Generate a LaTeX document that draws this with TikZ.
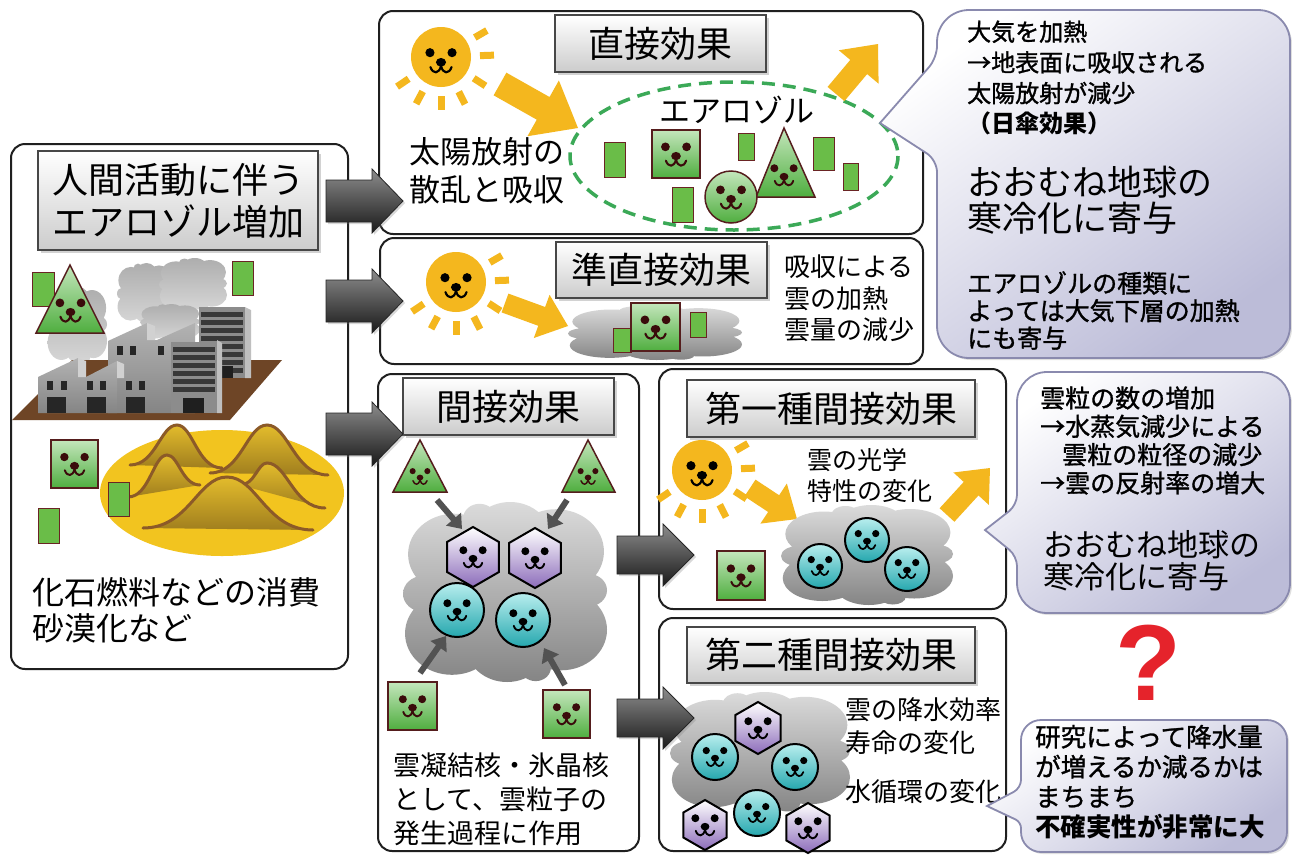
\documentclass[tikz,border=0pt]{standalone}
\usepackage{fontspec}
\setmainfont{Noto Sans CJK JP}
\newfontfamily\jpsemi[FakeBold=1.2]{Noto Sans CJK JP}
\newfontfamily\qmarkfont{Liberation Sans}
\usetikzlibrary{shadows,arrows.meta}

\definecolor{suncol}{HTML}{F4B71E}
\definecolor{leafhi}{HTML}{C4E6BC}
\definecolor{leaflo}{HTML}{4FAE3F}
\definecolor{chip}{HTML}{6ABD48}
\definecolor{chipedge}{HTML}{6A2424}
\definecolor{faceink}{HTML}{3A0B0B}
\definecolor{tealhi}{HTML}{B8EEEE}
\definecolor{teallo}{HTML}{25A7AE}
\definecolor{purplo}{HTML}{8C6CBA}
\definecolor{lav}{HTML}{BCBCD8}
\definecolor{lavedge}{HTML}{8A8AAE}
\definecolor{ringgreen}{HTML}{3BA957}
\definecolor{soil}{HTML}{6E4526}
\definecolor{sand}{HTML}{F2C41F}
\definecolor{dunehi}{HTML}{E3BC2C}
\definecolor{dunelo}{HTML}{A07E1E}
\definecolor{duneline}{HTML}{8C5A28}
\definecolor{qred}{HTML}{E5232B}

\tikzset{
  panel/.style={draw=black!88, line width=2pt, rounded corners=14pt, fill=white, inner sep=0pt},
  titlebox/.style={draw=black!72, line width=1.5pt, top color=white, bottom color=black!20,
    drop shadow={shadow xshift=2.5pt, shadow yshift=-2.5pt, opacity=0.35},
    inner sep=0pt, font=\fontsize{36}{42}\selectfont, align=center},
  body/.style={inner sep=0pt, anchor=west, align=left},
  bubble/.style={draw=lavedge, line width=1.8pt, top color=white, bottom color=lav, shading angle=35,
    drop shadow={shadow xshift=2pt, shadow yshift=-2pt, opacity=0.25}},
  darrow/.style={draw=black!85, line width=0.8pt, top color=black!45, bottom color=black!90,
    drop shadow={shadow xshift=2pt, shadow yshift=-2pt, opacity=0.3}},
  yarrow/.style={fill=suncol},
  leaf/.style={draw=chipedge!80!black, line width=1.5pt, top color=leafhi, bottom color=leaflo},
  chipbox/.style={draw=chipedge, line width=1pt, fill=chip},
  tealball/.style={draw=black, line width=2pt, top color=tealhi, bottom color=teallo},
  iceball/.style={draw=black, line width=2pt, top color=white, bottom color=purplo},
  ray/.style={draw=suncol, line width=7pt},
  nucarrow/.style={draw=black!68, line width=6pt, -{Triangle[length=13pt,width=19pt]}},
  cloudfill/.style={top color=black!14, bottom color=black!48},
  smokefill/.style={top color=black!32, bottom color=black!16},
  wall/.style={top color=black!30, bottom color=black!48},
}

% seal face: x, y, scale, ink colour
\newcommand{\sealface}[4]{%
  \begin{scope}[shift={(#1,#2)},scale=#3]
    \fill[#4] (-4.6,-1.8) circle[radius=1.9] (4.6,-1.8) circle[radius=1.9];
    \fill[#4] (0,2.2) ellipse[x radius=2.1, y radius=1.8];
    \draw[#4, line width=#3*0.9pt, line cap=round, line join=round]
      (-4.4,4.2) .. controls (-3.4,7.2) and (-0.7,7.2) .. (0,3.6)
      .. controls (0.7,7.2) and (3.4,7.2) .. (4.4,4.2);
  \end{scope}}

% sun with rays and face
\newcommand{\sunny}[2]{%
  \begin{scope}[shift={(#1,#2)}]
    \foreach \a in {-30,-2,33,63,90,118,146} \draw[ray] (\a:39) -- (\a:53);
    \fill[suncol] (0,0) circle[radius=30];
  \end{scope}
  \sealface{#1}{#2}{2.4}{black}}

% irregular blob (cloud / smoke): style, cx, cy, rx, ry
\newcommand{\blob}[5]{%
  \begin{scope}[shift={(#2,#3)},xscale=#4,yscale=#5]
    \shade[#1] (0,0) circle[radius=0.6] (-0.5,-0.42) circle[radius=0.45]
      (0.05,-0.6) circle[radius=0.4] (0.5,-0.45) circle[radius=0.47]
      (0.55,0.42) circle[radius=0.45] (0.02,0.6) circle[radius=0.4]
      (-0.52,0.46) circle[radius=0.46] (-0.8,0.02) circle[radius=0.2]
      (0.82,-0.02) circle[radius=0.18] (-0.25,-0.82) circle[radius=0.16]
      (0.3,0.84) circle[radius=0.15];
  \end{scope}}

% block arrow: style, from, to, half shaft, half head, head length
\newcommand{\blockarrow}[6]{%
  \path (#2); \pgfgetlastxy{\baxa}{\baya}
  \path (#3); \pgfgetlastxy{\baxb}{\bayb}
  \pgfmathsetmacro\baang{atan2(\bayb-\baya,\baxb-\baxa)}
  \pgfmathsetmacro\balen{veclen(\baxb-\baxa,\bayb-\baya)}
  \begin{scope}[shift={(#2)},rotate=\baang]
    \path[#1] (0,-#4) -- (\balen-#6,-#4) -- (\balen-#6,-#5) -- (\balen,0)
      -- (\balen-#6,#5) -- (\balen-#6,#4) -- (0,#4) -- cycle;
  \end{scope}}

% dune: x0, y0, peak x, peak y, x1, y1
\newcommand{\dune}[6]{%
  \shade[top color=dunehi, bottom color=dunelo] (#1,#2)
    .. controls ({#3-0.45*(#3-#1)},#2) and ({#3-0.35*(#3-#1)},#4) .. (#3,#4)
    .. controls ({#3+0.35*(#5-#3)},#4) and ({#3+0.45*(#5-#3)},#6) .. (#5,#6) -- cycle;
  \draw[duneline, line width=3pt, line cap=round] (#1,#2)
    .. controls ({#3-0.45*(#3-#1)},#2) and ({#3-0.35*(#3-#1)},#4) .. (#3,#4)
    .. controls ({#3+0.35*(#5-#3)},#4) and ({#3+0.45*(#5-#3)},#6) .. (#5,#6);}

% green square with face: x0, y0, x1, y1, face scale
\newcommand{\leafsquare}[5]{%
  \draw[leaf] (#1,#2) rectangle (#3,#4);
  \sealface{{(#1+#3)/2}}{{(#2+#4)/2-3}}{#5}{faceink}}

% hexagonal ice particle: x, y, radius
\newcommand{\icehex}[3]{%
  \draw[iceball] (#1,#2) ++(90:#3) -- ++(-30:#3) -- ++(-90:#3) -- ++(-150:#3) -- ++(150:#3) -- ++(90:#3) -- cycle;
  \sealface{#1}{#2-3}{2.1}{black}}

% cloud droplet: x, y, radius, face scale
\newcommand{\drop}[4]{%
  \draw[tealball] (#1,#2) circle[radius=#3];
  \sealface{#1}{#2-3}{#4}{black}}

\begin{document}
\begin{tikzpicture}[x=1pt,y=-1pt]
\useasboundingbox (0,0) rectangle (1292,854);
\fill[white] (0,0) rectangle (1292,854);

%================ source panel
\node[panel, minimum width=337pt, minimum height=525pt, anchor=north west] (src) at (10,143) {};
\node[titlebox, minimum width=280pt, minimum height=99pt] (srcT) at (178,200.5) {人間活動に伴う\\エアロゾル増加};

% smoke
\blob{smokefill}{77}{325}{30}{38}
\blob{smokefill}{145}{293}{28}{30}
\blob{smokefill}{193}{284}{34}{26}
\blob{smokefill}{170}{322}{30}{18}

% ground
\fill[soil] (12,420) -- (72,360) -- (282,360) -- (230,420) -- cycle;

% back tower
\fill[black!45] (199,307) rectangle (245,378);
\foreach \yy in {312,320,...,368} \fill[black!78] (201,\yy) rectangle (243,\yy+5);
\fill[black!25] (245,307) -- (251,310) -- (251,378) -- (245,378) -- cycle;
\fill[black!88] (222,366) rectangle (233,378);

% upper factory block
\shade[wall] (108,413) -- (108,341) -- (147,323) -- (147,340) -- (157,340) -- (195,323) -- (195,413) -- cycle;
\fill[black!18] (147,323) -- (155,326) -- (155,340) -- (147,340) -- cycle;
% lower factory block
\shade[wall] (38,413) -- (38,377) -- (78,358) -- (78,377) -- (86,377) -- (117,361) -- (117,413) -- cycle;
\fill[black!18] (78,358) -- (86,361) -- (86,377) -- (78,377) -- cycle;
\fill[black!18] (117,361) -- (124,364) -- (124,378) -- (117,378) -- cycle;
\foreach \wx in {117,130,158} \fill[black!85] (\wx,346) rectangle +(6,9);
\foreach \wx in {47,61,87,100,126,139} \fill[black!85] (\wx,381) rectangle +(6,9);
\foreach \wx in {47,87,126} \fill[black!85] (\wx,397) rectangle +(19,16);

% front tower
\fill[black!45] (171,342) rectangle (217,413);
\foreach \yy in {347,355,...,387} \fill[black!78] (173,\yy) rectangle (215,\yy+5);
\fill[black!25] (217,340) -- (222,343) -- (222,413) -- (217,413) -- cycle;
\fill[black!88] (183,398) rectangle (204,413);

% aerosol particles near factory
\draw[chipbox] (32,272) rectangle (54,306);
\draw[leaf] (70,265) -- (104,333) -- (36,333) -- cycle;
\sealface{70.5}{307}{2.3}{faceink}
\draw[chipbox] (232,261) rectangle (253,295);

% desert
\fill[sand] (222,493) ellipse[x radius=122, y radius=63];
\dune{130}{465}{177}{425}{222}{468}
\dune{210}{473}{267}{425}{328}{475}
\dune{128}{497}{167}{455}{200}{485}
\dune{240}{485}{267}{463}{325}{508}
\dune{143}{528}{227}{477}{313}{530}

\leafsquare{51}{440}{98}{488}{2.2}
\draw[chipbox] (108,482) rectangle (129,516);
\draw[chipbox] (38,508) rectangle (59,543);

\node[body, font=\fontsize{32}{36}\selectfont] (srcTx) at (32,610) {化石燃料などの消費\\砂漠化など};

%================ direct effect panel
\node[panel, minimum width=544pt, minimum height=223pt, anchor=north west] (direct) at (378,10) {};
\node[titlebox, minimum width=211pt, minimum height=57pt] (directT) at (660.5,43.5) {直接効果};
\sunny{441}{57}
\coordinate (ya1s) at (500,84);
\coordinate (ya1e) at (578,128);
\blockarrow{yarrow}{ya1s}{ya1e}{13}{32}{40}
\node[body, font=\fontsize{31}{38}\selectfont] (directTx) at (409,171) {太陽放射の\\散乱と吸収};
\draw[ringgreen, line width=3.5pt, dash pattern=on 13pt off 8pt] (734,156) ellipse[x radius=164, y radius=74];
\node[inner sep=0pt, font=\fontsize{31}{36}\selectfont] (aeroT) at (737,110) {エアロゾル};
\draw[chipbox] (604,142) rectangle (625,177);
\draw[chipbox] (738,133) rectangle (754,160);
\draw[chipbox] (813,137) rectangle (834,170);
\draw[chipbox] (843,163) rectangle (858,190);
\draw[chipbox] (672,187) rectangle (693,222);
\leafsquare{652}{130}{700}{178}{2.3}
\draw[leaf] (784,128) -- (815,197) -- (756,197) -- cycle;
\sealface{784}{172}{2.1}{faceink}
\draw[leaf] (731,197) circle[radius=26];
\sealface{731}{194}{2.3}{faceink}
\coordinate (ya2s) at (836,94);
\coordinate (ya2e) at (878,44);
\blockarrow{yarrow}{ya2s}{ya2e}{11}{26}{30}

%================ semi-direct effect panel
\node[panel, minimum width=543pt, minimum height=126pt, anchor=north west] (quasi) at (379,237) {};
\node[titlebox, minimum width=211pt, minimum height=56pt] (quasiT) at (661.5,270) {準直接効果};
\sunny{456}{282}
\coordinate (ya3s) at (505,303);
\coordinate (ya3e) at (568,326);
\blockarrow{yarrow}{ya3s}{ya3e}{10}{23}{28}
\blob{cloudfill}{655}{333}{87}{27}
\draw[chipbox] (613,328) rectangle (631,352);
\leafsquare{631}{303}{680}{351}{2.3}
\draw[chipbox] (690,312) rectangle (706,337);
\node[body, font=\fontsize{26}{31.5}\selectfont] (quasiTx) at (784,298.5) {吸収による\\雲の加熱\\雲量の減少};

%================ indirect effect panel
\node[panel, minimum width=261pt, minimum height=477pt, anchor=north west] (indirect) at (377,373) {};
\node[titlebox, minimum width=211pt, minimum height=57pt] (indirectT) at (508.5,406.5) {間接効果};
\draw[leaf] (420,440) -- (447,492) -- (393,492) -- cycle;
\sealface{420}{474}{1.6}{faceink}
\draw[leaf] (588,440) -- (615,492) -- (562,492) -- cycle;
\sealface{588}{474}{1.6}{faceink}
\blob{cloudfill}{505}{592}{102}{90}
\icehex{473}{557}{30}
\icehex{535}{558}{30}
\drop{457}{610}{27}{2.1}
\drop{523}{620}{27}{2.1}
\coordinate (n1s) at (437,500); \coordinate (n1e) at (462,529);
\coordinate (n2s) at (567,500); \coordinate (n2e) at (548,529);
\coordinate (n3s) at (420,673); \coordinate (n3e) at (446,636);
\coordinate (n4s) at (565,685); \coordinate (n4e) at (544,648);
\draw[nucarrow] (n1s) -- (n1e);
\draw[nucarrow] (n2s) -- (n2e);
\draw[nucarrow] (n3s) -- (n3e);
\draw[nucarrow] (n4s) -- (n4e);
\leafsquare{388}{682}{437}{730}{2.1}
\leafsquare{543}{690}{590}{738}{2.1}
\node[body, font=\fontsize{27}{34}\selectfont] (indirectTx) at (393,799) {雲凝結核・氷晶核\\として、雲粒子の\\発生過程に作用};

%================ first indirect effect panel
\node[panel, minimum width=347pt, minimum height=240pt, anchor=north west] (first) at (658,368) {};
\node[titlebox, minimum width=288pt, minimum height=57pt] (firstT) at (831,408.5) {第一種間接効果};
\sunny{702}{470}
\coordinate (ya4s) at (750,488);
\coordinate (ya4e) at (797,519);
\blockarrow{yarrow}{ya4s}{ya4e}{10}{24}{28}
\node[body, font=\fontsize{25}{31}\selectfont] (firstTx) at (807,475.5) {雲の光学\\特性の変化};
\blob{cloudfill}{867}{555}{86}{50}
\drop{867}{540}{22}{1.9}
\drop{820}{566}{22}{1.9}
\drop{907}{569}{22}{1.9}
\leafsquare{717}{551}{765}{600}{2.2}
\coordinate (ya5s) at (947,515);
\coordinate (ya5e) at (990,468);
\blockarrow{yarrow}{ya5s}{ya5e}{10}{24}{28}

%================ second indirect effect panel
\node[panel, minimum width=347pt, minimum height=233pt, anchor=north west] (second) at (658,617) {};
\node[titlebox, minimum width=288pt, minimum height=56pt] (secondT) at (831,655) {第二種間接効果};
\blob{cloudfill}{760}{752}{90}{60}
\icehex{758}{728}{26}
\drop{715}{757}{23}{1.9}
\drop{795}{767}{23}{1.9}
\drop{757}{813}{23}{1.9}
\icehex{705}{825}{25}
\icehex{808}{828}{25}
\node[body, font=\fontsize{26}{33}\selectfont] (secondTx) at (845,726.5) {雲の降水効率\\寿命の変化};
\node[body, font=\fontsize{26}{33}\selectfont] (secondTy) at (845,792) {水循環の変化};

%================ callouts
\path[bubble] (880,123) [rounded corners=12] -- (937,160) [rounded corners=32] -- (937,358)
  -- (1290,358) -- (1290,10) -- (937,10) [rounded corners=12] -- (937,58) [sharp corners] -- cycle;
\node[body, font=\jpsemi\fontsize{24}{30.7}\selectfont] (c1a) at (967,78)
  {大気を加熱\\→地表面に吸収される\\太陽放射が減少\\{\normalfont\bfseries （日傘効果）}};
\node[body, font=\fontsize{35}{36}\selectfont] (c1b) at (967,200) {おおむね地球の\\寒冷化に寄与};
\node[body, font=\jpsemi\fontsize{25}{27.5}\selectfont] (c1c) at (967,310.5)
  {エアロゾルの種類に\\よっては大気下層の加熱\\にも寄与};

\path[bubble] (985,530) [rounded corners=10] -- (1017,556) [rounded corners=30] -- (1017,613)
  -- (1290,613) -- (1290,372) -- (1017,372) [rounded corners=10] -- (1017,505) [sharp corners] -- cycle;
\node[body, font=\jpsemi\fontsize{25}{28.3}\selectfont] (c2a) at (1040,440.5)
  {雲粒の数の増加\\→水蒸気減少による\\\hspace*{22pt}雲粒の粒径の減少\\→雲の反射率の増大};
\node[body, font=\fontsize{31}{32}\selectfont] (c2b) at (1043,561) {おおむね地球の\\寒冷化に寄与};

\node[inner sep=0pt, font=\qmarkfont\bfseries\fontsize{108}{110}\selectfont, text=qred] (qm) at (1148,663) {?};

\path[bubble] (987,806) [rounded corners=6] -- (1021,822) [rounded corners=20] -- (1021,852)
  -- (1287,852) -- (1287,720) -- (1021,720) [rounded corners=8] -- (1021,788) [sharp corners] -- cycle;
\node[body, font=\jpsemi\fontsize{25.5}{30}\selectfont] (c3a) at (1035,782)
  {研究によって降水量\\が増えるか減るかは\\まちまち\\{\normalfont\bfseries 不確実性が非常に大}};

%================ panel-to-panel arrows
\coordinate (d1s) at (326,201); \coordinate (d1e) at (403,201);
\coordinate (d2s) at (326,301); \coordinate (d2e) at (403,301);
\coordinate (d3s) at (326,434); \coordinate (d3e) at (403,434);
\coordinate (d4s) at (617,555); \coordinate (d4e) at (694,555);
\coordinate (d5s) at (617,718); \coordinate (d5e) at (694,718);
\blockarrow{darrow}{d1s}{d1e}{21}{32}{31}
\blockarrow{darrow}{d2s}{d2e}{21}{32}{31}
\blockarrow{darrow}{d3s}{d3e}{21}{32}{31}
\blockarrow{darrow}{d4s}{d4e}{19}{31}{31}
\blockarrow{darrow}{d5s}{d5e}{19}{31}{31}
\end{tikzpicture}
\end{document}
